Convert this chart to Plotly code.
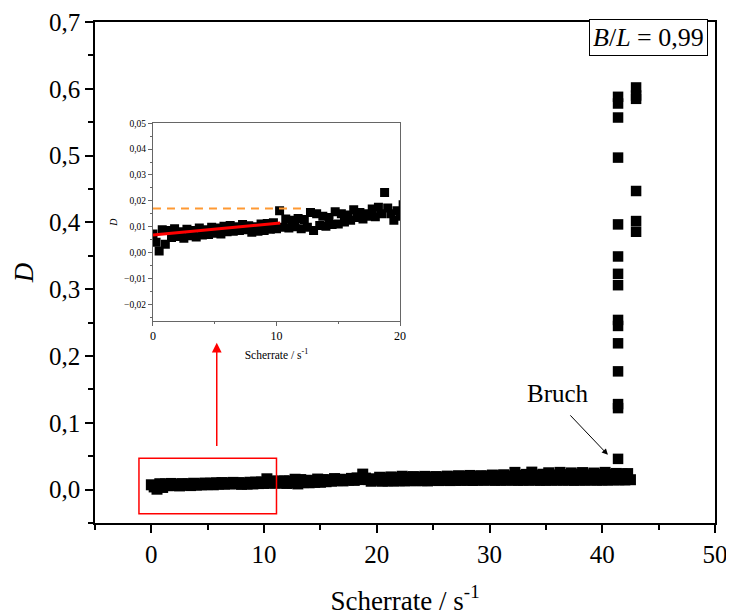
import plotly.graph_objects as go

# ---------------- data ----------------
shear_rate = [
    0,
    0.25, 0.5, 0.75, 1.0, 1.25, 1.5, 1.75, 2.0, 2.25, 2.5, 2.75, 3.0,
    3.25, 3.5, 3.75, 4.0, 4.25, 4.5, 4.75, 5.0, 5.25, 5.5, 5.75, 6.0,
    6.25, 6.5, 6.75, 7.0, 7.25, 7.5, 7.75, 8.0, 8.25, 8.5, 8.75, 9.0,
    9.25, 9.5, 9.75, 10.0, 10.25, 10.5, 10.75, 11.0, 11.25, 11.5, 11.75, 12.0,
    12.25, 12.5, 12.75, 13.0, 13.25, 13.5, 13.75, 14.0, 14.25, 14.5, 14.75, 15.0,
    15.25, 15.5, 15.75, 16.0, 16.25, 16.5, 16.75, 17.0, 17.25, 17.5, 17.75, 18.0,
    18.25, 18.5, 18.75, 19.0, 19.25, 19.5, 19.75, 20.0, 20.25, 20.5, 20.75, 21.0,
    21.25, 21.5, 21.75, 22.0, 22.25, 22.5, 22.75, 23.0, 23.25, 23.5, 23.75, 24.0,
    24.25, 24.5, 24.75, 25.0, 25.25, 25.5, 25.75, 26.0, 26.25, 26.5, 26.75, 27.0,
    27.25, 27.5, 27.75, 28.0, 28.25, 28.5, 28.75, 29.0, 29.25, 29.5, 29.75, 30.0,
    30.25, 30.5, 30.75, 31.0, 31.25, 31.5, 31.75, 32.0, 32.25, 32.5, 32.75, 33.0,
    33.25, 33.5, 33.75, 34.0, 34.25, 34.5, 34.75, 35.0, 35.25, 35.5, 35.75, 36.0,
    36.25, 36.5, 36.75, 37.0, 37.25, 37.5, 37.75, 38.0, 38.25, 38.5, 38.75, 39.0,
    39.25, 39.5, 39.75, 40.0, 40.25, 40.5, 40.75, 41.0, 41.25, 41.5, 41.75, 42.0,
    42.25, 42.5,
]
D_values = [
    0.0072,
    0.0040, 0.0006, 0.0088, 0.0032, 0.0085, 0.0058, 0.0092, 0.0062,
    0.0080, 0.0055, 0.0090, 0.0065, 0.0085, 0.0060, 0.0095, 0.0068,
    0.0088, 0.0070, 0.0098, 0.0075, 0.0095, 0.0072, 0.0102, 0.0080,
    0.0105, 0.0082, 0.0100, 0.0085, 0.0108, 0.0088, 0.0104, 0.0078,
    0.0100, 0.0082, 0.0110, 0.0085, 0.0112, 0.0090, 0.0115, 0.0092,
    0.0162, 0.0098, 0.0130, 0.0095, 0.0125, 0.0100, 0.0132, 0.0092,
    0.0128, 0.0098, 0.0155, 0.0085, 0.0150, 0.0105, 0.0140, 0.0102,
    0.0135, 0.0108, 0.0158, 0.0110, 0.0150, 0.0118, 0.0145, 0.0125,
    0.0165, 0.0135, 0.0155, 0.0130, 0.0150, 0.0140, 0.0168, 0.0138,
    0.0175, 0.0150, 0.0232, 0.0172, 0.0150, 0.0125, 0.0162, 0.0140,
    0.0185, 0.0125, 0.0175, 0.0130, 0.0190, 0.0128, 0.0180, 0.0132,
    0.0200, 0.0130, 0.0185, 0.0135, 0.0195, 0.0132, 0.0182, 0.0135,
    0.0198, 0.0130, 0.0188, 0.0138, 0.0195, 0.0135, 0.0188, 0.0138,
    0.0202, 0.0135, 0.0192, 0.0138, 0.0208, 0.0138, 0.0196, 0.0140,
    0.0212, 0.0136, 0.0200, 0.0140, 0.0208, 0.0140, 0.0202, 0.0142,
    0.0218, 0.0138, 0.0208, 0.0140, 0.0222, 0.0140, 0.0205, 0.0142,
    0.0258, 0.0138, 0.0212, 0.0140, 0.0228, 0.0140, 0.0262, 0.0142,
    0.0218, 0.0138, 0.0230, 0.0140, 0.0252, 0.0140, 0.0220, 0.0142,
    0.0258, 0.0140, 0.0225, 0.0142, 0.0250, 0.0138, 0.0228, 0.0142,
    0.0255, 0.0140, 0.0222, 0.0144, 0.0248, 0.0140, 0.0232, 0.0142,
    0.0258, 0.0142, 0.0230, 0.0145, 0.0242, 0.0145, 0.0235, 0.0145,
    0.0240, 0.0148,
]

# points after fracture ("Bruch")
break_x = [41.4, 41.4, 41.4, 41.4, 41.4, 41.4, 41.4, 41.4, 41.4, 41.4,
           41.4, 41.4, 41.4, 41.4, 41.4,
           43.0, 43.0, 43.0, 43.0, 43.0, 43.0]
break_D = [0.588, 0.578, 0.557, 0.497, 0.397, 0.349, 0.323, 0.306, 0.254, 0.245,
           0.219, 0.177, 0.128, 0.122, 0.046,
           0.602, 0.590, 0.585, 0.447, 0.402, 0.386]

# inset: linear fit and threshold line
fit_x = [0, 10.3]
fit_D = [0.0068, 0.0114]
limit_x = [0, 12.1]
limit_D = [0.017, 0.017]

main_x_ticks = [0, 10, 20, 30, 40, 50]
inset_x_ticks = [0, 10, 20]

FONT = "Liberation Serif"

fig = go.Figure()

# main plot
fig.add_trace(go.Scatter(x=shear_rate, y=D_values, mode="markers",
                         marker=dict(symbol="square", size=11, color="black", line=dict(width=0)),
                         xaxis="x", yaxis="y", showlegend=False))
fig.add_trace(go.Scatter(x=break_x, y=break_D, mode="markers",
                         marker=dict(symbol="square", size=10.5, color="black", line=dict(width=0)),
                         xaxis="x", yaxis="y", showlegend=False))

# inset
fig.add_trace(go.Scatter(x=shear_rate, y=D_values, mode="markers",
                         marker=dict(symbol="square", size=9, color="black", line=dict(width=0)),
                         xaxis="x2", yaxis="y2", showlegend=False))
fig.add_trace(go.Scatter(x=limit_x, y=limit_D, mode="lines",
                         line=dict(color="#FF9933", width=2, dash="8px,6px"),
                         xaxis="x2", yaxis="y2", showlegend=False))
fig.add_trace(go.Scatter(x=fit_x, y=fit_D, mode="lines",
                         line=dict(color="#FF0000", width=3),
                         xaxis="x2", yaxis="y2", showlegend=False))

axis_common = dict(showgrid=False, zeroline=False, showline=True, linecolor="black",
                   linewidth=1.5, mirror=True, ticks="outside", tickcolor="black",
                   tickwidth=1.5, automargin=False)
inset_common = dict(showgrid=False, zeroline=False, showline=True, linecolor="#666666",
                    linewidth=1, mirror=True, ticks="outside", tickcolor="#666666",
                    ticklen=4, tickwidth=1, automargin=False)

# the page body adds an 8 px offset, so the figure is 8 px smaller than the window
fig.update_layout(
    width=726, height=608,
    margin=dict(l=87, r=19, t=14, b=93, autoexpand=False),
    paper_bgcolor="white", plot_bgcolor="white",
    separators=",.",
    font=dict(family=FONT, color="black", size=24),
    xaxis=dict(**axis_common, range=[-5, 50], tickvals=main_x_ticks, ticklen=8,
               minor=dict(ticks="outside", dtick=5, tick0=0, ticklen=5, tickcolor="black", tickwidth=1.5),
               tickfont=dict(size=25),
               title=dict(text="Scherrate / s<sup>-1</sup>", font=dict(size=27), standoff=24)),
    yaxis=dict(**axis_common, range=[-0.05, 0.7], dtick=0.1, tick0=0, tickformat=".1f", ticklen=8,
               minor=dict(ticks="outside", dtick=0.05, tick0=0, ticklen=5, tickcolor="black", tickwidth=1.5),
               tickfont=dict(size=25),
               title=dict(text="<i>D</i>", font=dict(size=27), standoff=8)),
    xaxis2=dict(**inset_common,
                minor=dict(ticks="outside", dtick=5, tick0=0, ticklen=2, tickcolor="#666666"),
                domain=[0.0935, 0.492], anchor="y2", range=[0, 20], tickvals=inset_x_ticks,
                tickfont=dict(size=12),
                title=dict(text="Scherrate / s<sup>-1</sup>", font=dict(size=11.5), standoff=8)),
    yaxis2=dict(**inset_common,
                minor=dict(ticks="outside", dtick=0.005, tick0=0, ticklen=2, tickcolor="#666666"),
                domain=[0.403, 0.798], anchor="x2", range=[-0.0265, 0.05], dtick=0.01, tick0=0,
                tickformat=".2f", tickfont=dict(size=9.5),
                title=dict(text="<i>D</i>", font=dict(size=10), standoff=4)),
)

# red zoom box
fig.add_shape(type="rect", xref="x", yref="y", x0=-1.1, x1=11.1, y0=-0.036, y1=0.047,
              line=dict(color="#FF0000", width=1.5), layer="above")

# red arrow pointing to inset
fig.add_annotation(xref="x", yref="y", axref="x", ayref="y",
                   x=5.8, y=0.220, ax=5.8, ay=0.063, text="", showarrow=True,
                   arrowhead=2, arrowsize=1.3, arrowwidth=1.5, arrowcolor="#FF0000")

# Bruch label and arrow
fig.add_annotation(xref="x", yref="y", x=36.1, y=0.144, text="Bruch", showarrow=False,
                   font=dict(size=25), xanchor="center", yanchor="middle")
fig.add_annotation(xref="x", yref="y", x=40.5, y=0.052, ax=-39, ay=-41, text="",
                   showarrow=True, arrowhead=2, arrowsize=1.2, arrowwidth=1, arrowcolor="black")

# B/L box
fig.add_annotation(xref="paper", yref="paper", x=0.893, y=0.969,
                   text="<i>B</i>/<i>L</i> = 0,99", showarrow=False,
                   font=dict(size=26), bordercolor="black", borderwidth=1, borderpad=3,
                   bgcolor="white", xanchor="center", yanchor="middle")

fig.write_html("out.html")
